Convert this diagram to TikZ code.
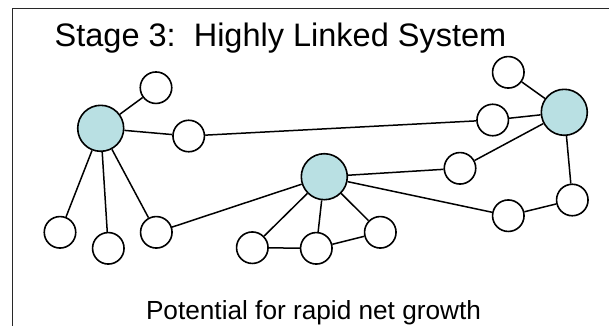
\documentclass[tikz,border=0pt]{standalone}
\usepackage{fontspec}
\setmainfont{Liberation Sans}
\definecolor{hubfill}{RGB}{185,224,227}
\definecolor{framecol}{RGB}{40,40,40}
\tikzset{
  leaf/.style={circle,draw=black,fill=white,line width=1.6pt,minimum size=31.5pt,inner sep=0pt},
  hub/.style={circle,draw=black,fill=hubfill,line width=1.6pt,minimum size=46pt,inner sep=0pt},
  link/.style={draw=black,line width=1.5pt},
  frameline/.style={draw=framecol,line width=1.8pt},
  titletext/.style={anchor=base,inner sep=0pt,font=\fontsize{32.5}{38}\selectfont},
  captext/.style={anchor=base,inner sep=0pt,font=\fontsize{26.2}{30}\selectfont}
}
\begin{document}
\begin{tikzpicture}[x=1pt,y=-1pt]
\useasboundingbox (0,0) rectangle (609,325);
\coordinate (fr1) at (612,8.5);
\coordinate (fr2) at (12.5,8.5);
\coordinate (fr3) at (12.5,328);
\draw[frameline] (fr1) -- (fr2) -- (fr3);

\node[titletext] (title) at (280.5,46.5) {Stage 3:\ \ Highly Linked System};
\node[captext] (cap) at (313.5,319) {Potential for rapid net growth};

% hubs
\node[hub] (A) at (100.7,128.3) {};
\node[hub] (B) at (564.3,112.3) {};
\node[hub] (C) at (324.3,176.7) {};

% leaves
\node[leaf] (a1) at (156,87.7) {};
\node[leaf] (a2) at (188.7,136) {};
\node[leaf] (a3) at (60,232.3) {};
\node[leaf] (a4) at (108.3,248.3) {};
\node[leaf] (a5) at (156.3,232.3) {};
\node[leaf] (b1) at (508.3,72.3) {};
\node[leaf] (b2) at (492.7,120) {};
\node[leaf] (b3) at (460,168.3) {};
\node[leaf] (b4) at (572.3,200) {};
\node[leaf] (b5) at (508.3,215.7) {};
\node[leaf] (c1) at (252.3,247.7) {};
\node[leaf] (c2) at (316.3,248.3) {};
\node[leaf] (c3) at (380.3,232.3) {};

% links
\draw[link] (A) -- (a1);
\draw[link] (A) -- (a2);
\draw[link] (a2) -- (b2);
\draw[link] (b2) -- (B);
\draw[link] (B) -- (b1);
\draw[link] (B) -- (b3);
\draw[link] (b3) -- (C);
\draw[link] (B) -- (b4);
\draw[link] (b4) -- (b5);
\draw[link] (b5) -- (C);
\draw[link] (A) -- (a3);
\draw[link] (A) -- (a4);
\draw[link] (A) -- (a5);
\draw[link] (a5) -- (C);
\draw[link] (C) -- (c1);
\draw[link] (c1) -- (c2);
\draw[link] (C) -- (c2);
\draw[link] (C) -- (c3);
\draw[link] (c2) -- (c3);
\end{tikzpicture}
\end{document}
